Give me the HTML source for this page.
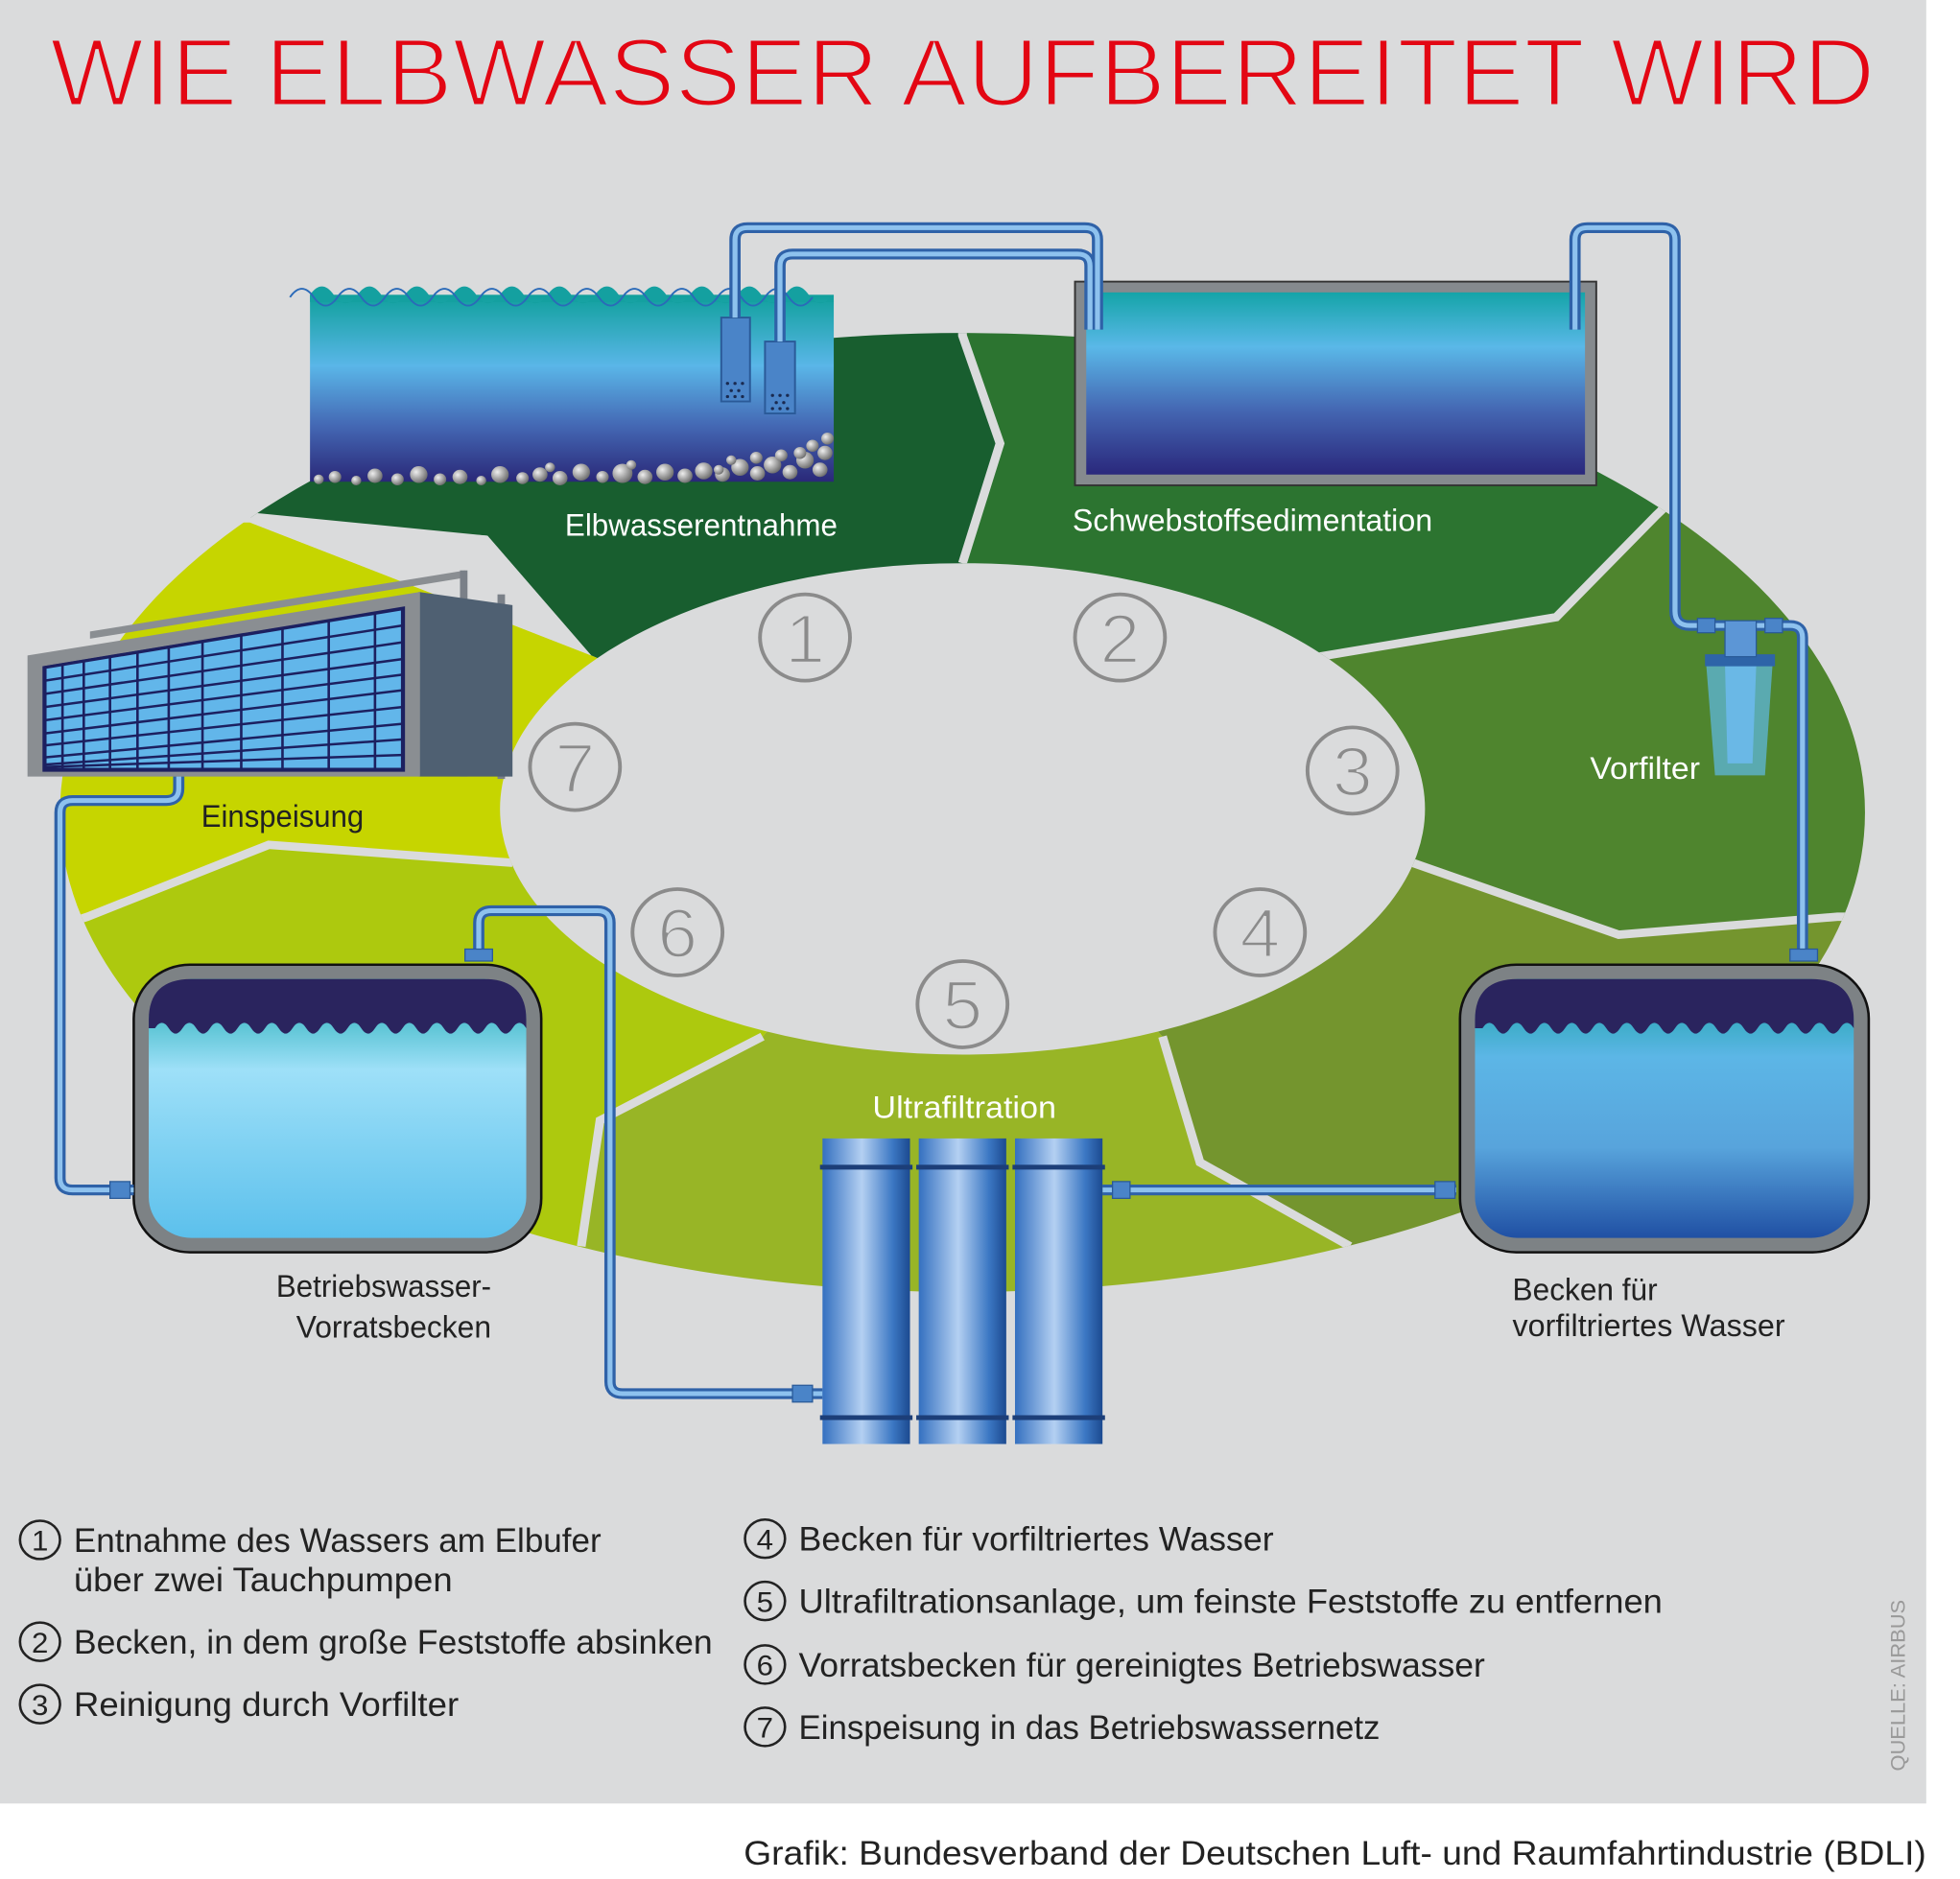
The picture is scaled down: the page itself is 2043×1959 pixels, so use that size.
<!DOCTYPE html>
<html><head><meta charset="utf-8"><style>
html,body{margin:0;padding:0;background:#fff}
svg{display:block}
</style></head><body>
<svg width="2043" height="1959" viewBox="0 0 1568 1568" preserveAspectRatio="none" xmlns="http://www.w3.org/2000/svg" font-family="Liberation Sans, DejaVu Sans, sans-serif">
<defs>
<linearGradient id="elbe" x1="0" y1="0" x2="0" y2="1">
<stop offset="0" stop-color="#10a09c"/><stop offset="0.38" stop-color="#5ab6e8"/><stop offset="0.7" stop-color="#4468b4"/><stop offset="1" stop-color="#2a2878"/></linearGradient>
<linearGradient id="sed" x1="0" y1="0" x2="0" y2="1">
<stop offset="0" stop-color="#14a4a8"/><stop offset="0.3" stop-color="#5ab8e8"/><stop offset="0.65" stop-color="#4466b2"/><stop offset="1" stop-color="#2a287c"/></linearGradient>
<linearGradient id="t4" x1="0" y1="0" x2="0" y2="1">
<stop offset="0" stop-color="#14a0a0"/><stop offset="0.3" stop-color="#5cb6e6"/><stop offset="0.65" stop-color="#58a4dc"/><stop offset="1" stop-color="#2050a4"/></linearGradient>
<linearGradient id="t6" x1="0" y1="0" x2="0" y2="1">
<stop offset="0" stop-color="#18a8b0"/><stop offset="0.35" stop-color="#9ee0f8"/><stop offset="1" stop-color="#5cc0ec"/></linearGradient>
<linearGradient id="col" x1="0" y1="0" x2="1" y2="0">
<stop offset="0" stop-color="#3470c0"/><stop offset="0.45" stop-color="#b4d0f2"/><stop offset="0.8" stop-color="#3c78c4"/><stop offset="1" stop-color="#1c4a90"/></linearGradient>
<radialGradient id="stone" cx="0.35" cy="0.35" r="0.7"><stop offset="0" stop-color="#eee"/><stop offset="1" stop-color="#6a6a6a"/></radialGradient>
<clipPath id="ring"><path clip-rule="evenodd" d="M48,678 a722,400 0 1,0 1444,0 a722,400 0 1,0 -1444,0 Z M400,675 a370,205 0 1,1 740,0 a370,205 0 1,1 -740,0 Z"/></clipPath>
</defs>
<rect x="0" y="0" width="1541" height="1505" fill="#dadbdc"/>

<text x="40" y="88" font-size="80" fill="#e30613" stroke="#dadbdc" stroke-width="2.5" textLength="1460" lengthAdjust="spacingAndGlyphs">WIE ELBWASSER AUFBEREITET WIRD</text>

<g clip-path="url(#ring)">
<polygon fill="#185e2f" points="770,678 770,470 800,370 770,280 770,100 150,100 150,428 390,447 473,547"/>
<polygon fill="#2c7430" points="770,678 770,470 800,370 770,280 770,100 1400,100 1325,430 1245,515 1055,548"/>
<polygon fill="#4f852e" points="770,678 1055,548 1245,515 1325,430 1400,100 1600,100 1600,765 1470,765 1295,780 1130,720"/>
<polygon fill="#74952e" points="770,678 1130,720 1295,780 1470,765 1600,765 1600,1200 1080,1040 960,970 930,865"/>
<polygon fill="#98b526" points="770,678 930,865 960,970 1080,1040 1100,1200 465,1200 465,1040 480,935 610,865"/>
<polygon fill="#adc90e" points="770,678 610,865 480,935 465,1040 465,1200 0,1200 0,765 70,765 215,705 410,720"/>
<polygon fill="#c6d500" points="770,678 410,720 215,705 70,765 0,765 0,436 200,436 473,547"/>
<g fill="none" stroke="#dadbdc" stroke-width="7">
<polyline points="770,470 800,370 770,280 770,260"/>
<polyline points="1055,548 1245,515 1325,430 1340,415"/>
<polyline points="1130,720 1295,780 1470,765 1490,765"/>
<polyline points="930,865 960,970 1080,1040"/>
<polyline points="610,865 480,935 465,1040"/>
<polyline points="410,720 215,705 70,765 40,775"/>
</g>
<polygon fill="#dadbdc" points="473,547 200,436 190,420 204,428 390,447"/>
</g>

<g fill="none" stroke="#8b8b8b" stroke-width="3">
<circle cx="644" cy="532" r="36"/><circle cx="896" cy="532" r="36"/><circle cx="1082" cy="643" r="36"/><circle cx="1008" cy="778" r="36"/><circle cx="770" cy="838" r="36"/><circle cx="542" cy="778" r="36"/><circle cx="460" cy="640" r="36"/>
</g>
<g fill="#8b8b8b" stroke="#dadbdc" stroke-width="2" font-size="58" text-anchor="middle">
<text x="644" y="553">1</text><text x="896" y="553">2</text><text x="1082" y="664">3</text><text x="1008" y="799">4</text><text x="770" y="859">5</text><text x="542" y="799">6</text><text x="460" y="661">7</text>
</g>

<rect x="248" y="246" width="419" height="156" fill="url(#elbe)"/>
<path d="M248,246 q9.5,-14 19,0 t19,0 t19,0 t19,0 t19,0 t19,0 t19,0 t19,0 t19,0 t19,0 t19,0 t19,0 t19,0 t19,0 t19,0 t19,0 t19,0 t19,0 t19,0 t19,0 t19,0 t19,0 L667,252 L248,252Z" fill="#14a0a0"/>
<path d="M232,246 q9.5,-14 19,0 t19,0 t19,0 t19,0 t19,0 t19,0 t19,0 t19,0 t19,0 t19,0 t19,0 t19,0 t19,0 t19,0 t19,0 t19,0 t19,0 t19,0 t19,0 t19,0 t19,0 t19,0" fill="none" stroke="#2a6ab8" stroke-width="1.5" transform="translate(0,2)"/>
<g fill="url(#stone)">
<circle cx="255" cy="400" r="4"/><circle cx="268" cy="398" r="5"/><circle cx="285" cy="401" r="4"/><circle cx="300" cy="397" r="6"/><circle cx="318" cy="400" r="5"/><circle cx="335" cy="396" r="7"/><circle cx="352" cy="400" r="5"/><circle cx="368" cy="398" r="6"/><circle cx="385" cy="401" r="4"/><circle cx="400" cy="396" r="7"/><circle cx="418" cy="399" r="5"/><circle cx="432" cy="396" r="6"/><circle cx="448" cy="399" r="6"/><circle cx="465" cy="394" r="7"/><circle cx="482" cy="398" r="5"/><circle cx="498" cy="395" r="8"/><circle cx="516" cy="398" r="6"/><circle cx="532" cy="394" r="7"/><circle cx="548" cy="397" r="6"/><circle cx="563" cy="393" r="7"/><circle cx="578" cy="396" r="6"/><circle cx="592" cy="390" r="7"/><circle cx="606" cy="395" r="6"/><circle cx="618" cy="388" r="7"/><circle cx="632" cy="394" r="6"/><circle cx="644" cy="384" r="7"/><circle cx="656" cy="392" r="6"/><circle cx="660" cy="378" r="6"/><circle cx="650" cy="372" r="5"/><circle cx="662" cy="366" r="5"/><circle cx="640" cy="378" r="5"/><circle cx="625" cy="380" r="5"/><circle cx="605" cy="382" r="5"/><circle cx="585" cy="384" r="4"/><circle cx="575" cy="392" r="4"/><circle cx="440" cy="390" r="4"/><circle cx="505" cy="388" r="4"/>
</g>
<rect x="577" y="265" width="23" height="70" fill="#4a84c8" stroke="#2a5a98" stroke-width="1.5"/>
<rect x="612" y="285" width="24" height="60" fill="#4a84c8" stroke="#2a5a98" stroke-width="1.5"/>
<g fill="#1a2a50"><circle cx="582" cy="320" r="1.3"/><circle cx="588" cy="320" r="1.3"/><circle cx="594" cy="320" r="1.3"/><circle cx="585" cy="326" r="1.3"/><circle cx="591" cy="326" r="1.3"/><circle cx="582" cy="331" r="1.3"/><circle cx="588" cy="331" r="1.3"/><circle cx="594" cy="331" r="1.3"/><circle cx="618" cy="330" r="1.3"/><circle cx="624" cy="330" r="1.3"/><circle cx="630" cy="330" r="1.3"/><circle cx="621" cy="336" r="1.3"/><circle cx="627" cy="336" r="1.3"/><circle cx="618" cy="341" r="1.3"/><circle cx="624" cy="341" r="1.3"/><circle cx="630" cy="341" r="1.3"/></g>

<rect x="860" y="235" width="417" height="170" fill="#858a8e" stroke="#333" stroke-width="1.5"/>
<rect x="869" y="244" width="399" height="152" fill="url(#sed)"/>

<polygon points="72,527 372,476 372,482 72,533" fill="#8a8e92"/>
<rect x="368" y="476" width="6" height="172" fill="#7a8088"/>
<rect x="398" y="496" width="6" height="154" fill="#7a8088"/>
<polygon points="335,494 410,505 410,648 335,648" fill="#4f6072"/>
<polygon points="22,547 336,494 336,648 22,648" fill="#8a8e92"/>
<polygon points="34,556 324,506 324,644 34,644" fill="#1c2060"/>
<polygon points="36,557 322,508 322,642 36,642" fill="#62b6ea" stroke="#1c2060" stroke-width="2.5"/>
<g stroke="#1c2060" stroke-width="2" fill="none">
<line x1="50" y1="555" x2="50" y2="642"/><line x1="67" y1="552" x2="67" y2="642"/><line x1="88" y1="548" x2="88" y2="642"/><line x1="110" y1="545" x2="110" y2="642"/><line x1="135" y1="540" x2="135" y2="642"/><line x1="162" y1="536" x2="162" y2="642"/><line x1="193" y1="530" x2="193" y2="642"/><line x1="226" y1="525" x2="226" y2="642"/><line x1="263" y1="519" x2="263" y2="642"/><line x1="300" y1="512" x2="300" y2="642"/>
<line x1="36" y1="568" x2="322" y2="522"/><line x1="36" y1="579" x2="322" y2="536"/><line x1="36" y1="590" x2="322" y2="550"/><line x1="36" y1="601" x2="322" y2="563"/><line x1="36" y1="612" x2="322" y2="576"/><line x1="36" y1="622" x2="322" y2="590"/><line x1="36" y1="632" x2="322" y2="604"/><line x1="36" y1="638" x2="322" y2="617"/><line x1="36" y1="640" x2="322" y2="630"/>
</g>

<rect x="107" y="805" width="326" height="240" rx="45" fill="#7d8285" stroke="#111" stroke-width="2"/>
<rect x="119" y="817" width="302" height="216" rx="34" fill="url(#t6)"/>
<path d="M119,858 L119,851 Q119,817 153,817 L387,817 Q421,817 421,851 L421,858 q-5.5,-9 -11,0 t-11,0 t-11,0 t-11,0 t-11,0 t-11,0 t-11,0 t-11,0 t-11,0 t-11,0 t-11,0 t-11,0 t-11,0 t-11,0 t-11,0 t-11,0 t-11,0 t-11,0 t-11,0 t-11,0 t-11,0 t-11,0 t-11,0 t-11,0 t-11,0 t-11,0 t-11,0 Z" fill="#2a245e"/>
<rect x="1168" y="805" width="327" height="240" rx="45" fill="#7d8285" stroke="#111" stroke-width="2"/>
<rect x="1180" y="817" width="303" height="216" rx="34" fill="url(#t4)"/>
<path d="M1180,858 L1180,851 Q1180,817 1214,817 L1449,817 Q1483,817 1483,851 L1483,858 q-5.5,-9 -11,0 t-11,0 t-11,0 t-11,0 t-11,0 t-11,0 t-11,0 t-11,0 t-11,0 t-11,0 t-11,0 t-11,0 t-11,0 t-11,0 t-11,0 t-11,0 t-11,0 t-11,0 t-11,0 t-11,0 t-11,0 t-11,0 t-11,0 t-11,0 t-11,0 t-11,0 t-11,0 Z" fill="#2a245e"/>

<g fill="none" stroke-linejoin="round">
<g stroke="#2f62a8" stroke-width="9">
<path d="M588,265 V200 Q588,190 598,190 H868 Q878,190 878,200 V275"/>
<path d="M624,285 V222 Q624,212 634,212 H862 Q872,212 872,222 V275"/>
<path d="M1260,275 V200 Q1260,190 1270,190 H1330 Q1340,190 1340,200 V510 Q1340,522 1352,522 H1380"/>
<path d="M1405,522 H1432 Q1442,522 1442,532 V800"/>
<path d="M1165,993 H882"/>
<path d="M383,795 V770 Q383,760 393,760 H478 Q488,760 488,770 V1153 Q488,1163 498,1163 H658"/>
<path d="M143,648 V658 Q143,668 133,668 H58 Q48,668 48,678 V983 Q48,993 58,993 H107"/>
</g>
<g stroke="#8ec2ee" stroke-width="4">
<path d="M588,265 V200 Q588,190 598,190 H868 Q878,190 878,200 V275"/>
<path d="M624,285 V222 Q624,212 634,212 H862 Q872,212 872,222 V275"/>
<path d="M1260,275 V200 Q1260,190 1270,190 H1330 Q1340,190 1340,200 V510 Q1340,522 1352,522 H1380"/>
<path d="M1405,522 H1432 Q1442,522 1442,532 V800"/>
<path d="M1165,993 H882"/>
<path d="M383,795 V770 Q383,760 393,760 H478 Q488,760 488,770 V1153 Q488,1163 498,1163 H658"/>
<path d="M143,648 V658 Q143,668 133,668 H58 Q48,668 48,678 V983 Q48,993 58,993 H107"/>
</g>
</g>
<g fill="#4a84c8" stroke="#2a5a98" stroke-width="1">
<rect x="372" y="792" width="22" height="10"/><rect x="1432" y="792" width="22" height="10"/>
<rect x="890" y="986" width="14" height="14"/><rect x="1148" y="986" width="16" height="14"/>
<rect x="634" y="1156" width="16" height="14"/><rect x="88" y="986" width="16" height="14"/>
<rect x="1358" y="516" width="14" height="12"/><rect x="1412" y="516" width="14" height="12"/>
</g>

<polygon points="1365,555 1418,555 1412,647 1372,647" fill="#5aaab0"/>
<polygon points="1380,555 1405,555 1402,637 1382,637" fill="#6ab8e6"/>
<rect x="1364" y="546" width="56" height="10" fill="#2e64a8"/>
<rect x="1380" y="518" width="25" height="30" fill="#5c96d6" stroke="#2a5a98"/>

<rect x="658" y="950" width="70" height="255" fill="url(#col)"/>
<rect x="735" y="950" width="70" height="255" fill="url(#col)"/>
<rect x="812" y="950" width="70" height="255" fill="url(#col)"/>
<g fill="#1c3e78">
<rect x="656" y="972" width="74" height="4"/><rect x="733" y="972" width="74" height="4"/><rect x="810" y="972" width="74" height="4"/>
<rect x="656" y="1181" width="74" height="4"/><rect x="733" y="1181" width="74" height="4"/><rect x="810" y="1181" width="74" height="4"/>
</g>

<g font-size="26" fill="#fff">
<text x="452" y="447" textLength="218" lengthAdjust="spacingAndGlyphs">Elbwasserentnahme</text>
<text x="858" y="443" textLength="288" lengthAdjust="spacingAndGlyphs">Schwebstoffsedimentation</text>
<text x="1272" y="650" textLength="88" lengthAdjust="spacingAndGlyphs">Vorfilter</text>
<text x="698" y="933" textLength="147" lengthAdjust="spacingAndGlyphs">Ultrafiltration</text>
</g>
<g font-size="26" fill="#222">
<text x="161" y="690" textLength="130" lengthAdjust="spacingAndGlyphs">Einspeisung</text>
<text x="221" y="1082" textLength="172" lengthAdjust="spacingAndGlyphs">Betriebswasser-</text>
<text x="237" y="1116" textLength="156" lengthAdjust="spacingAndGlyphs">Vorratsbecken</text>
<text x="1210" y="1085" textLength="116" lengthAdjust="spacingAndGlyphs">Becken für</text>
<text x="1210" y="1115" textLength="218" lengthAdjust="spacingAndGlyphs">vorfiltriertes Wasser</text>
</g>

<g fill="none" stroke="#222" stroke-width="2">
<circle cx="32" cy="1285" r="16"/><circle cx="32" cy="1370" r="16"/><circle cx="32" cy="1422" r="16"/>
<circle cx="612" cy="1284" r="16"/><circle cx="612" cy="1336" r="16"/><circle cx="612" cy="1389" r="16"/><circle cx="612" cy="1441" r="16"/>
</g>
<g font-size="24" fill="#222" text-anchor="middle">
<text x="32" y="1294">1</text><text x="32" y="1379">2</text><text x="32" y="1431">3</text>
<text x="612" y="1293">4</text><text x="612" y="1345">5</text><text x="612" y="1398">6</text><text x="612" y="1450">7</text>
</g>
<g font-size="28" fill="#222">
<text x="59" y="1295" textLength="422" lengthAdjust="spacingAndGlyphs">Entnahme des Wassers am Elbufer</text>
<text x="59" y="1328" textLength="303" lengthAdjust="spacingAndGlyphs">über zwei Tauchpumpen</text>
<text x="59" y="1380" textLength="511" lengthAdjust="spacingAndGlyphs">Becken, in dem große Feststoffe absinken</text>
<text x="59" y="1432" textLength="308" lengthAdjust="spacingAndGlyphs">Reinigung durch Vorfilter</text>
<text x="639" y="1294" textLength="380" lengthAdjust="spacingAndGlyphs">Becken für vorfiltriertes Wasser</text>
<text x="639" y="1346" textLength="691" lengthAdjust="spacingAndGlyphs">Ultrafiltrationsanlage, um feinste Feststoffe zu entfernen</text>
<text x="639" y="1399" textLength="549" lengthAdjust="spacingAndGlyphs">Vorratsbecken für gereinigtes Betriebswasser</text>
<text x="639" y="1451" textLength="465" lengthAdjust="spacingAndGlyphs">Einspeisung in das Betriebswassernetz</text>
</g>
<text transform="translate(1524,1478) rotate(-90)" font-size="16" fill="#999" textLength="143" lengthAdjust="spacingAndGlyphs">QUELLE: AIRBUS</text>

<text x="595" y="1556" font-size="28" fill="#222" textLength="946" lengthAdjust="spacingAndGlyphs">Grafik: Bundesverband der Deutschen Luft- und Raumfahrtindustrie (BDLI)</text>
</svg>
</body></html>
